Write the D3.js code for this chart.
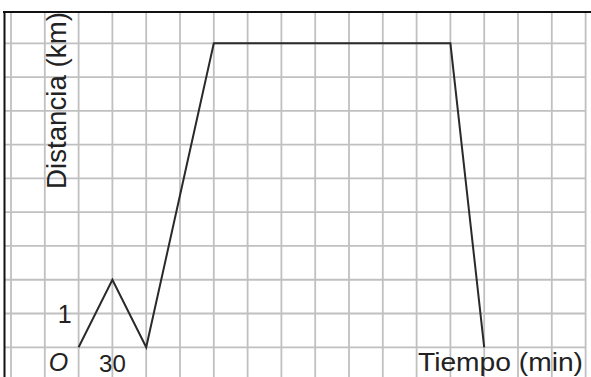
<!DOCTYPE html>
<html><head><meta charset="utf-8">
<script src="https://cdn.jsdelivr.net/npm/d3@7"></script>
<style>html,body{margin:0;padding:0;background:#fff;}svg{display:block;}</style>
</head><body>
<svg id="c" width="591" height="377"></svg>
<script>
const timeMin = [0, 30, 60, 120, 330, 360];
const distanceKm = [0, 2, 0, 9, 9, 0];
const xGridTicks = d3.range(-60, 451, 30);
const yGridTicks = d3.range(0, 10, 1);
const xTickLabels = [{v: 30, t: "30"}];
const yTickLabels = [{v: 1, t: "1"}];
const originLabel = "O";
const xTitle = "Tiempo (min)";
const yTitle = "Distancia (km)";

const svg = d3.select("#c");
const x = d3.scaleLinear().domain([-60, 450]).range([11, 585.6]);
const y = d3.scaleLinear().domain([0, 9]).range([347.3, 43.3]);

const grid = svg.append("g").attr("stroke", "#c0c0c0").attr("stroke-width", 1.8);
grid.selectAll("line.v").data(xGridTicks).join("line").attr("class","v")
  .attr("x1", d => x(d)).attr("x2", d => x(d)).attr("y1", 12).attr("y2", 377);
grid.selectAll("line.h").data(yGridTicks).join("line").attr("class","h")
  .attr("x1", 4).attr("x2", x(450)).attr("y1", d => y(d)).attr("y2", d => y(d));

// borders
svg.append("line").attr("x1", 3).attr("x2", 591).attr("y1", 12).attr("y2", 12)
  .attr("stroke", "#111").attr("stroke-width", 2);
svg.append("line").attr("x1", 4.5).attr("x2", 4.5).attr("y1", 11).attr("y2", 377)
  .attr("stroke", "#111").attr("stroke-width", 2);

// data line
const pts = timeMin.map((t, i) => [t, distanceKm[i]]);
svg.append("path").datum(pts)
  .attr("d", d3.line().x(d => x(d[0])).y(d => y(d[1])))
  .attr("fill", "none").attr("stroke", "#2a2a2a").attr("stroke-width", 2)
  .attr("stroke-linejoin", "miter");

const font = "'Liberation Sans', Arial, sans-serif";
const txt = svg.append("g").attr("fill", "#222").attr("font-family", font);

// y title
txt.append("text").text(yTitle)
  .attr("transform", `translate(66,189) rotate(-90)`)
  .attr("font-size", 27).attr("textLength", 177).attr("lengthAdjust", "spacingAndGlyphs");

// x title
txt.append("text").text(xTitle)
  .attr("x", 418).attr("y", 371)
  .attr("font-size", 25).attr("textLength", 165).attr("lengthAdjust", "spacingAndGlyphs");

// tick labels
txt.selectAll("text.yt").data(yTickLabels).join("text").attr("class","yt")
  .attr("x", x(0) - 14).attr("y", d => y(d.v) + 9)
  .attr("text-anchor", "middle").attr("font-size", 25).text(d => d.t);
txt.selectAll("text.xt").data(xTickLabels).join("text").attr("class","xt")
  .attr("x", d => x(d.v)).attr("y", 372)
  .attr("text-anchor", "middle").attr("font-size", 24).text(d => d.t);
txt.append("text").text(originLabel)
  .attr("x", x(0) - 20).attr("y", 371).attr("text-anchor", "middle")
  .attr("font-size", 25).attr("font-style", "italic");
</script>
</body></html>
